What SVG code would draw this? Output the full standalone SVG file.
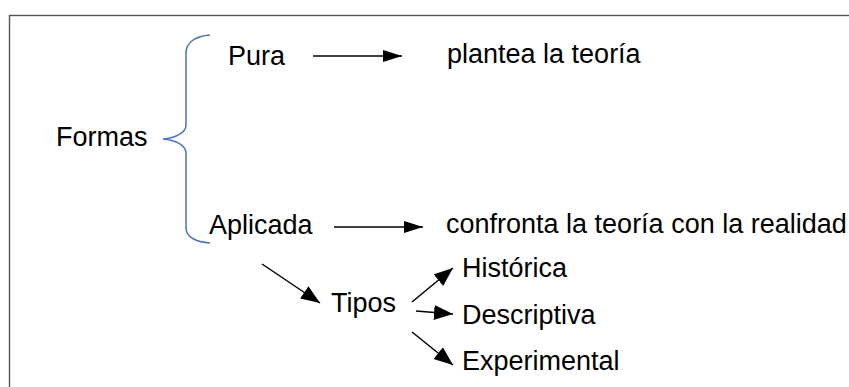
<svg xmlns="http://www.w3.org/2000/svg" width="849" height="387" viewBox="0 0 849 387">
<style>
text{font-family:"Liberation Sans",Arial,sans-serif;font-size:27px;fill:#000}
.c line{stroke:#000;stroke-width:1.5}
</style>
<defs>
<marker id="ah" markerUnits="userSpaceOnUse" markerWidth="20" markerHeight="13" refX="19" refY="6" orient="auto"><path d="M0,0 L19,6 L0,12 Z" fill="#000"/></marker>
<marker id="ad" markerUnits="userSpaceOnUse" markerWidth="21" markerHeight="16" refX="19" refY="7.5" orient="auto"><path d="M0,0 L19,7.5 L0,15 Z" fill="#000"/></marker>
</defs>
<rect width="849" height="387" fill="#fff"/>
<rect x="9.5" y="15.5" width="900" height="420" fill="none" stroke="#555" stroke-width="1.4"/>
<g id="brace"><path d="M210,35 C196,36 186,42 186,53 L186,125 C186,133 175,138 163,139 C175,140 186,145 186,153 L186,228 C186,237 196,242 210,243" fill="none" stroke="#4a72b8" stroke-width="1.5"/></g>
<g id="formas"><text x="56" y="146">Formas</text></g>
<g id="pura"><text x="228" y="65">Pura</text></g>
<g id="plantea"><text x="447" y="63">plantea la teoría</text></g>
<g id="aplicada"><text x="209" y="234">Aplicada</text></g>
<g id="confronta"><text x="446" y="233">confronta la teoría con la realidad</text></g>
<g id="tipos"><text x="331" y="312">Tipos</text></g>
<g id="historica"><text x="462" y="277">Histórica</text></g>
<g id="descriptiva"><text x="462" y="324">Descriptiva</text></g>
<g id="experimental"><text x="462" y="370">Experimental</text></g>
<g class="c" id="connectors">
<line x1="313" y1="56" x2="402" y2="56" marker-end="url(#ah)"/>
<line x1="334" y1="227" x2="423" y2="227" marker-end="url(#ah)"/>
<line x1="262" y1="264" x2="320" y2="303" marker-end="url(#ad)"/>
<line x1="412" y1="302" x2="453" y2="268" marker-end="url(#ad)"/>
<line x1="416" y1="311" x2="453" y2="314" marker-end="url(#ad)"/>
<line x1="412" y1="332" x2="453" y2="365" marker-end="url(#ad)"/>
</g>
</svg>
